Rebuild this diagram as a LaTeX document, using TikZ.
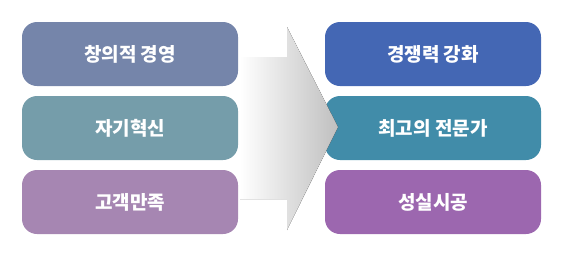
\documentclass[tikz,border=0pt]{standalone}
\usepackage{fontspec}
\setmainfont{Noto Sans CJK KR}
\usepackage{xcolor}
\usetikzlibrary{positioning}

\definecolor{boxA}{HTML}{7585AA}
\definecolor{boxB}{HTML}{759DAA}
\definecolor{boxC}{HTML}{A686B2}
\definecolor{boxD}{HTML}{4467B4}
\definecolor{boxE}{HTML}{418CA9}
\definecolor{boxF}{HTML}{9C67AF}

\begin{document}
\begin{tikzpicture}[x=1pt,y=-1pt,
  every node/.style={font=\fontsize{19}{21}\selectfont\bfseries,text=white},
  goalbox/.style={rounded corners=15pt,minimum width=216pt,minimum height=64pt,inner sep=0pt}]
\useasboundingbox (0,0) rectangle (561,255);
% left column
\node[goalbox,fill=boxA] (cre) at (130,54) {창의적 경영};
\node[goalbox,fill=boxB] (inn) at (130,128) {자기혁신};
\node[goalbox,fill=boxC] (sat) at (130,202) {고객만족};
% right column
\node[goalbox,fill=boxD] (com) at (433,54) {경쟁력 강화};
\node[goalbox,fill=boxE] (pro) at (433,128) {최고의 전문가};
\node[goalbox,fill=boxF] (hon) at (433,202) {성실시공};
% big arrow
\fill[left color=white,right color=black!25] (240,57)--(287,57)--(287,27)--(338,127)--(287,230)--(287,199)--(240,199)--cycle;
\end{tikzpicture}
\end{document}
